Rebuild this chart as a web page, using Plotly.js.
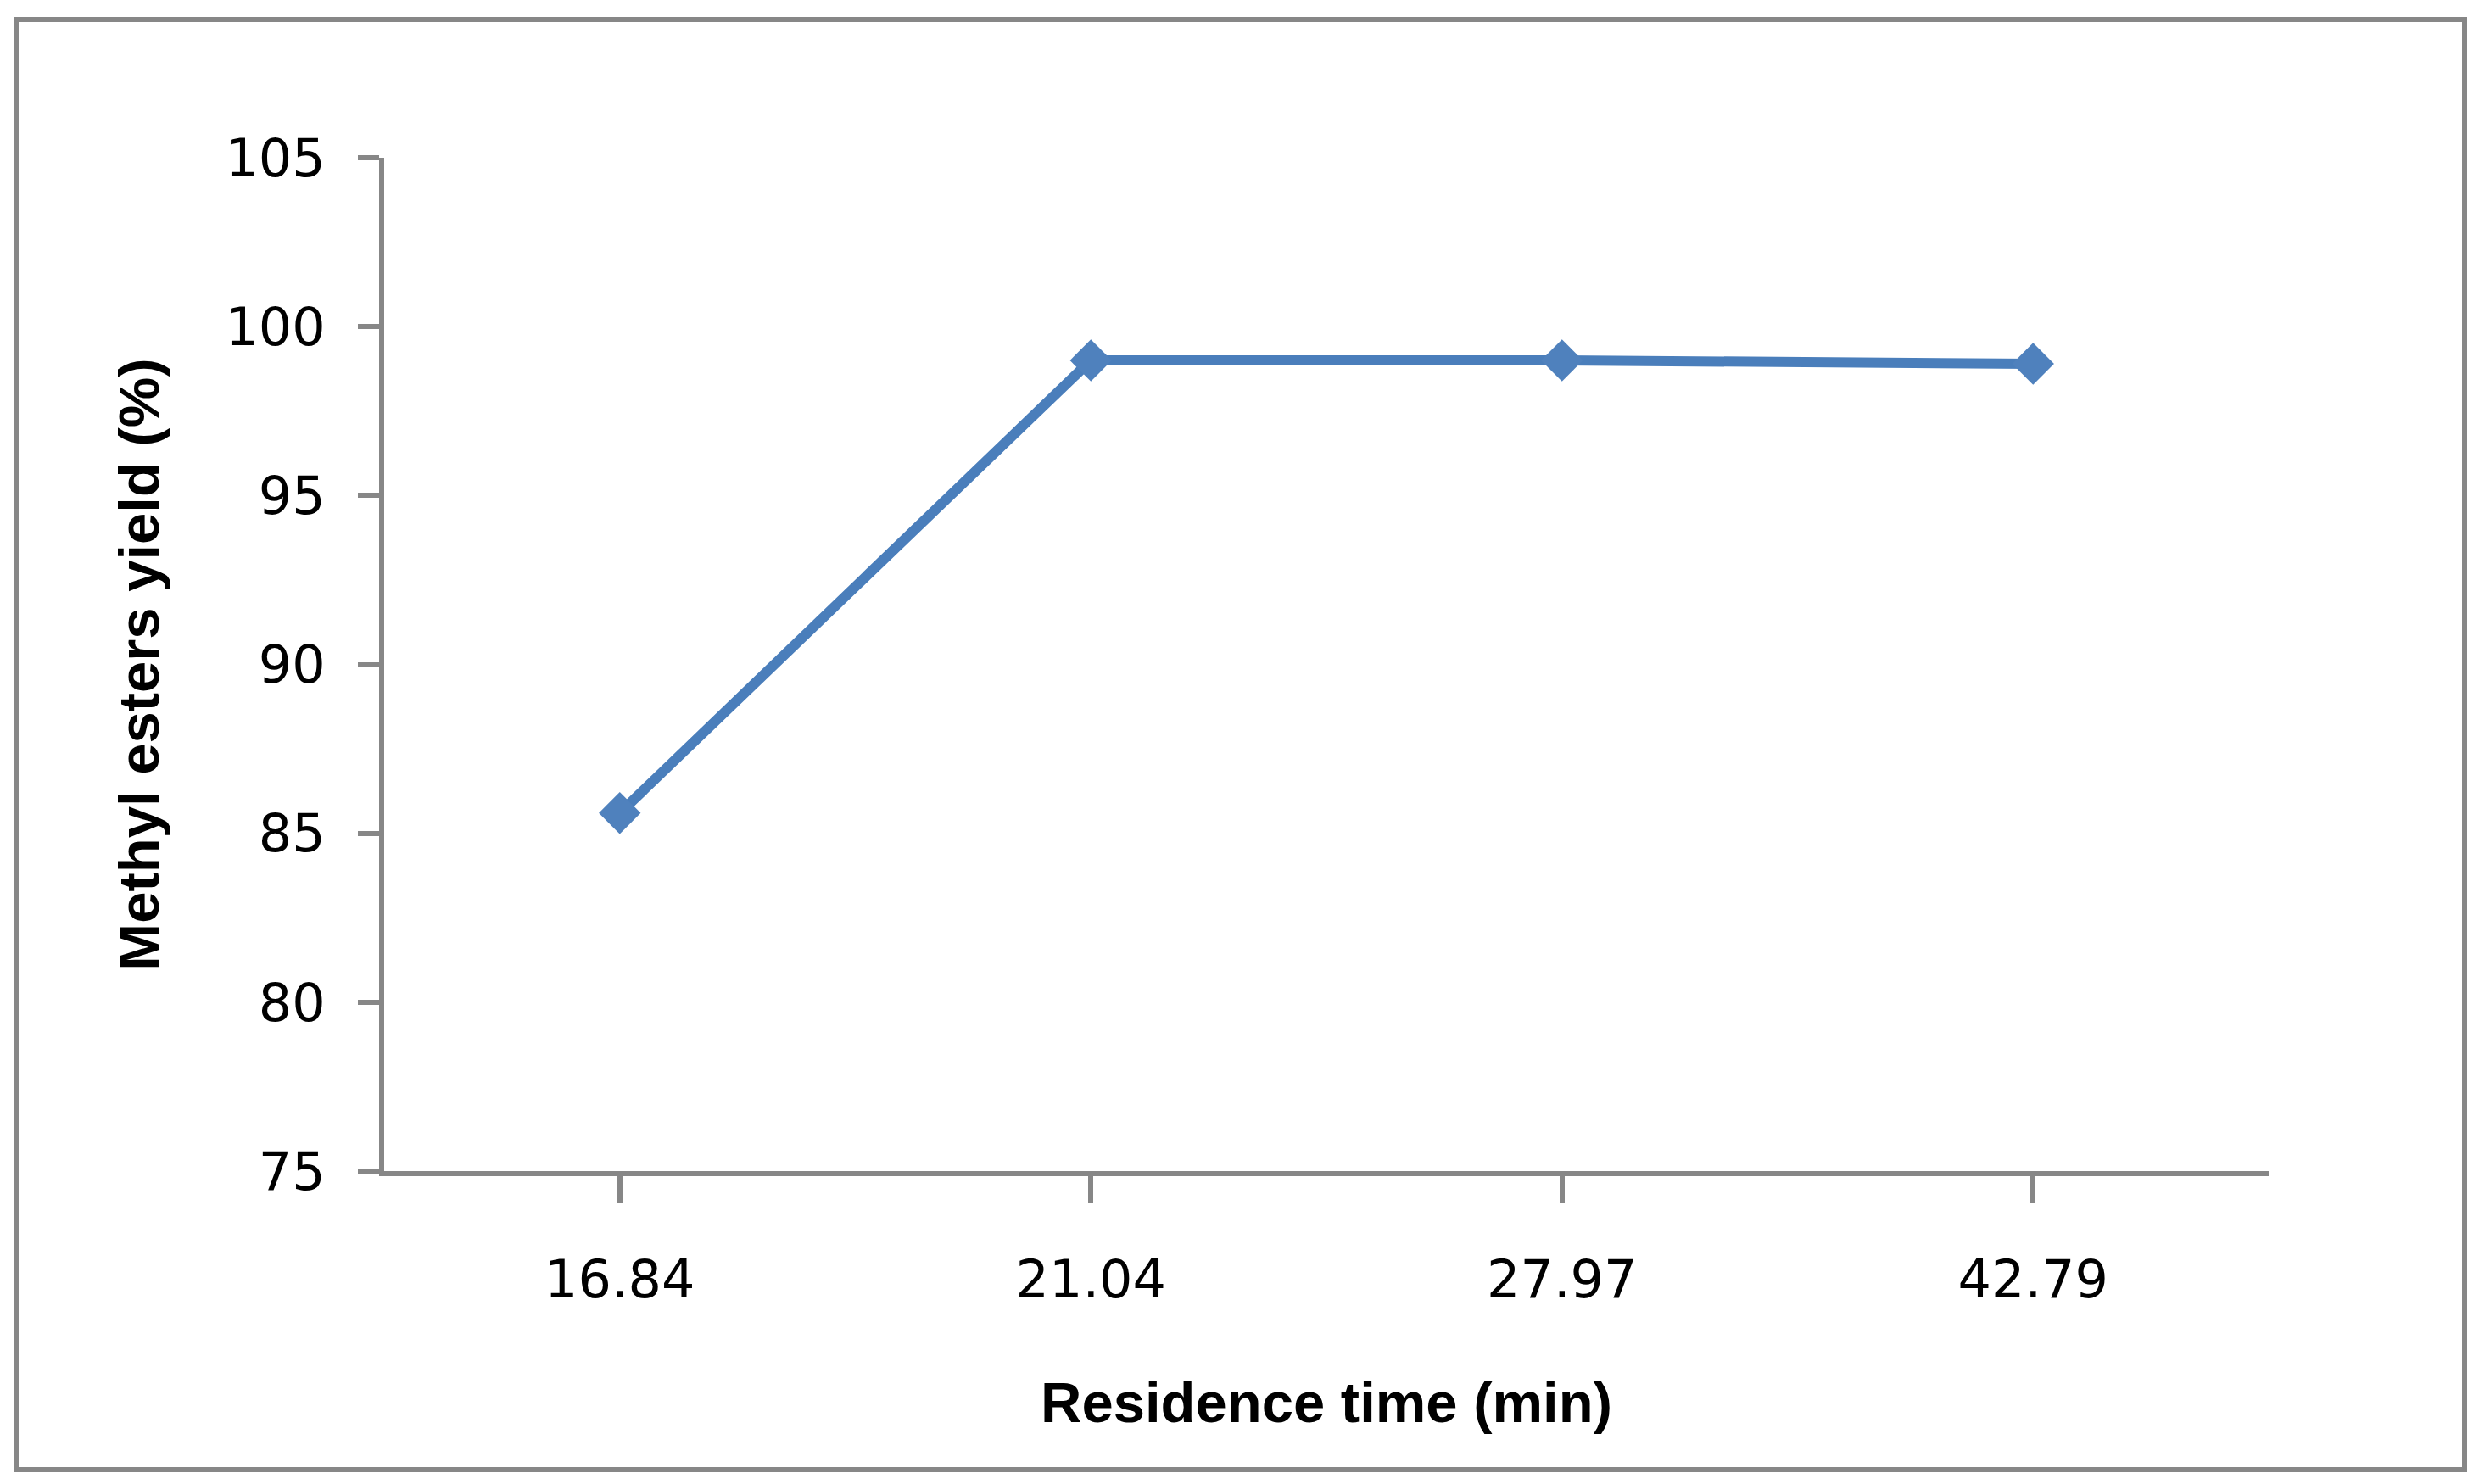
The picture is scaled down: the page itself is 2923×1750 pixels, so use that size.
<!DOCTYPE html>
<html>
<head>
<meta charset="utf-8">
<script src="https://cdn.plot.ly/plotly-3.0.1.min.js"></script>
<style>
html, body { margin: 0; padding: 0; background: #ffffff; }
#chart { width: 2923px; height: 1750px; }
</style>
</head>
<body>
<div id="chart"></div>
<script>
// Data
const residenceTimes = ['16.84', '21.04', '27.97', '42.79'];      // min (category labels)
const methylEsterYield = [85.6, 99.0, 99.0, 98.9];               // %
const yTickValues = [75, 80, 85, 90, 95, 100, 105];
const xTitle = 'Residence time (min)';
const yTitle = 'Methyl esters yield (%)';

const axisGray = '#878787';
const seriesBlue = '#4a7ebb';

const trace = {
  type: 'scatter',
  mode: 'lines+markers',
  x: residenceTimes,
  y: methylEsterYield,
  line: { color: seriesBlue, width: 12 },
  marker: { symbol: 'diamond', size: 38, color: '#4f81bd' },
  showlegend: false,
  hoverinfo: 'x+y'
};

const layout = {
  width: 2923,
  height: 1750,
  paper_bgcolor: '#ffffff',
  plot_bgcolor: '#ffffff',
  margin: { l: 453, r: 248, t: 186, b: 369, pad: 0 },
  showlegend: false,
  font: { family: 'DejaVu Sans', color: '#000000', size: 62 },
  xaxis: {
    type: 'category',
    range: [-0.5, 3.5],
    showgrid: false,
    zeroline: false,
    showline: true,
    linecolor: axisGray,
    linewidth: 6,
    ticks: 'outside',
    ticklen: 32,
    tickwidth: 6,
    tickcolor: axisGray,
    tickfont: { family: 'DejaVu Sans', size: 62, color: '#000000' },
    ticklabelstandoff: 37,
    title: {
      text: xTitle,
      font: { family: 'Liberation Sans', size: 67, color: '#000000', weight: 'bold' },
      standoff: 88
    },
    fixedrange: true
  },
  yaxis: {
    range: [75, 105],
    tickvals: yTickValues,
    ticktext: yTickValues.map(String),
    showgrid: false,
    zeroline: false,
    showline: true,
    linecolor: axisGray,
    linewidth: 6,
    ticks: 'outside',
    ticklen: 25,
    tickwidth: 6,
    tickcolor: axisGray,
    tickfont: { family: 'DejaVu Sans', size: 62, color: '#000000' },
    ticklabelstandoff: 26,
    title: {
      text: yTitle,
      font: { family: 'Liberation Sans', size: 67, color: '#000000', weight: 'bold' },
      standoff: 58
    },
    fixedrange: true
  },
  shapes: [
    {
      type: 'rect',
      xref: 'paper', yref: 'paper',
      xsizemode: 'pixel', ysizemode: 'pixel',
      xanchor: 0, yanchor: 0,
      x0: -434, x1: 2453,
      y0: -352, y1: 1358,
      line: { color: axisGray, width: 6 },
      fillcolor: 'rgba(0,0,0,0)',
      layer: 'below'
    }
  ]
};

Plotly.newPlot('chart', [trace], layout, { displayModeBar: false, staticPlot: true });
</script>
</body>
</html>
